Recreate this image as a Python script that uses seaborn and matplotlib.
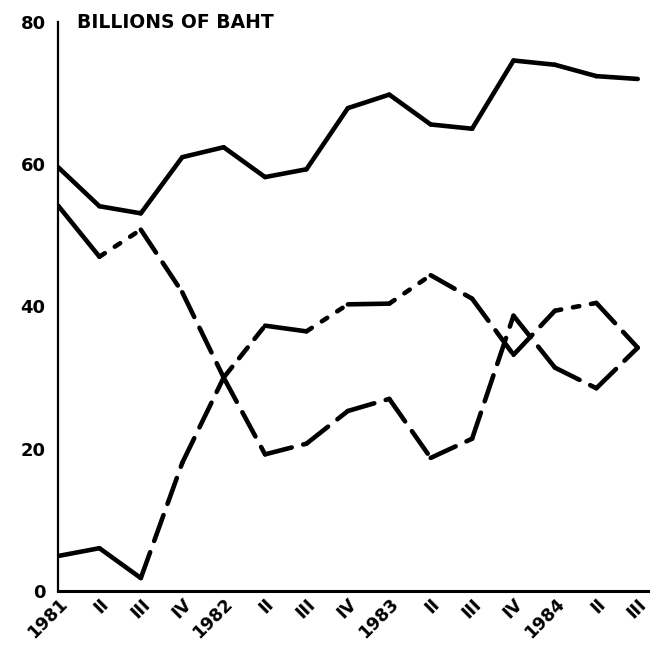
import matplotlib
matplotlib.use("Agg")
import matplotlib.pyplot as plt
import seaborn as sns
import pandas as pd

# ---- data ----
quarters = ["1981", "II", "III", "IV", "1982", "II", "III", "IV",
            "1983", "II", "III", "IV", "1984", "II", "III"]
total = [59.6, 54.1, 53.1, 61.0, 62.4, 58.2, 59.3, 67.9,
         69.8, 65.6, 65.0, 74.6, 74.0, 72.4, 72.0]
series_b = [54.2, 47.0, 50.8, 42.0, 30.0, 19.2, 20.7, 25.3,
            27.0, 18.7, 21.4, 38.7, 31.4, 28.5, 34.2]
series_c = [4.9, 6.0, 1.8, 18.0, 30.0, 37.3, 36.5, 40.3,
            40.4, 44.4, 41.1, 33.2, 39.4, 40.5, 34.2]
y_ticks = [0, 20, 40, 60, 80]
y_label = "BILLIONS OF BAHT"

# ---- styles (per segment, as drawn in the scanned original) ----
style_total = ["solid"] * 14
style_b = ["solid", "short"] + ["long"] * 12
style_c = ["solid", "solid", "long", "long", "medium", "solid", "short",
           "solid", "short", "long", "long", "long", "short", "long"]
dash_map = {
    "solid": "-",
    "long": (0, (6.0, 2.6)),
    "medium": (0, (3.0, 2.4)),
    "short": (0, (1.4, 2.6)),
}

sns.set_style("white")
plt.rcParams["font.family"] = ["DejaVu Sans"]
plt.rcParams["text.color"] = "black"

fig = plt.figure(figsize=(6.52, 6.50), dpi=100)
ax = fig.add_axes([0.089, 0.091, 0.905, 0.875])

x = list(range(len(quarters)))
LW = 3.3
for vals, styles in [(total, style_total), (series_b, style_b), (series_c, style_c)]:
    df = pd.DataFrame({"x": x, "y": vals})
    for i, st in enumerate(styles):
        seg = df.iloc[i:i + 2]
        sns.lineplot(data=seg, x="x", y="y", ax=ax, color="black", lw=LW,
                     linestyle=dash_map[st], solid_capstyle="round",
                     dash_capstyle="round", solid_joinstyle="round",
                     estimator=None, sort=False)

ax.set_xlim(0, 14.25)
ax.set_ylim(0, 80)
ax.set_xlabel("")
ax.set_ylabel("")

ax.set_yticks(y_ticks)
ax.set_yticklabels([str(v) for v in y_ticks], fontsize=13, fontweight="bold",
                   color="black")
ax.set_xticks(x)
ax.set_xticklabels(quarters, fontsize=12.5, fontweight="bold", color="black",
                   rotation=45, ha="right", va="top", rotation_mode="anchor")

for s in ["top", "right"]:
    ax.spines[s].set_visible(False)
ax.spines["left"].set_linewidth(1.6)
ax.spines["bottom"].set_linewidth(2.2)
ax.spines["left"].set_color("black")
ax.spines["bottom"].set_color("black")
ax.tick_params(axis="y", direction="out", length=7, width=1.6, pad=2,
               colors="black")
ax.tick_params(axis="x", direction="in", length=6, width=1.8, pad=3,
               colors="black")

fig.text(77 / 652, 1 - 22 / 650, y_label, ha="left", va="center",
         fontsize=13.5, fontweight="bold", color="black")

fig.savefig("out.png", dpi=100, facecolor="white")
